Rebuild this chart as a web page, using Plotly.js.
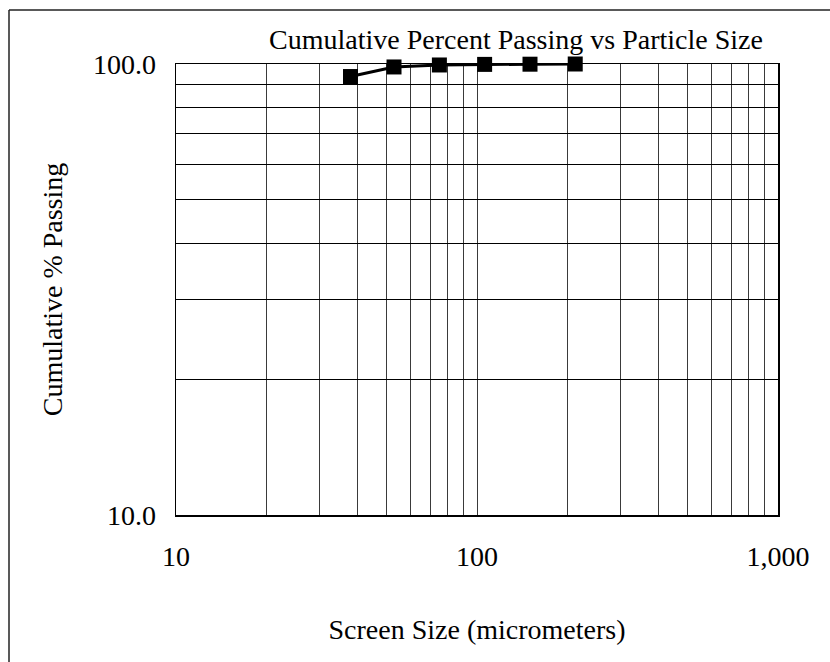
<!DOCTYPE html>
<html>
<head>
<meta charset="utf-8">
<script src="https://cdn.plot.ly/plotly-3.0.1.min.js"></script>
<style>
  html, body { margin: 0; padding: 0; background: #ffffff; }
  #chart { width: 830px; height: 662px; }
</style>
</head>
<body>
<div id="chart"></div>
<script>
// Sieve analysis: screen opening (micrometers) and cumulative percent passing
const screenSize = [38, 53, 75, 106, 150, 212];
const cumPassing = [93.8, 98.5, 99.5, 99.8, 99.9, 100.0];

// Log-axis grid positions and their labels (blank = grid line only)
const xTickVals = [10, 20, 30, 40, 50, 60, 70, 80, 90,
                   100, 200, 300, 400, 500, 600, 700, 800, 900, 1000];
const xTickText = ['10', '', '', '', '', '', '', '', '',
                   '100', '', '', '', '', '', '', '', '', '1,000'];
const yTickVals = [10, 20, 30, 40, 50, 60, 70, 80, 90, 100];
const yTickText = ['10.0', '', '', '', '', '', '', '', '', '100.0'];

const W = 830, H = 662;
const M = { l: 176, r: 52, t: 64, b: 147 };
const plotW = W - M.l - M.r, plotH = H - M.t - M.b;
// convert page pixels to paper fractions for the outer frame
const px = x => (x - M.l) / plotW;
const py = y => (H - M.b - y) / plotH;

const serif = 'Liberation Serif, Times New Roman, serif';

const trace = {
  x: screenSize,
  y: cumPassing,
  type: 'scatter',
  mode: 'lines+markers',
  line: { color: '#000000', width: 3 },
  marker: { symbol: 'square', size: 15, color: '#000000' },
  cliponaxis: false,
  hoverinfo: 'x+y'
};

const layout = {
  width: W,
  height: H,
  margin: M,
  paper_bgcolor: '#ffffff',
  plot_bgcolor: '#ffffff',
  showlegend: false,
  font: { family: serif, color: '#000000', size: 28 },
  title: {
    text: 'Cumulative Percent Passing vs Particle Size',
    font: { family: serif, size: 28, color: '#000000' },
    xref: 'container', yref: 'container',
    x: 516 / W, xanchor: 'center',
    y: 1 - 39 / H, yanchor: 'middle'
  },
  xaxis: {
    type: 'log',
    range: [1, 3],
    tickmode: 'array',
    tickvals: xTickVals,
    ticktext: xTickText,
    ticks: '',
    ticklabelstandoff: 16,
    tickfont: { family: serif, size: 28, color: '#000000' },
    showgrid: true,
    gridcolor: '#3a3a3a',
    gridwidth: 1,
    showline: true,
    linecolor: '#000000',
    linewidth: 1.5,
    mirror: true,
    zeroline: false,
    title: {
      text: 'Screen Size (micrometers)',
      font: { family: serif, size: 28, color: '#000000' },
      standoff: 48
    }
  },
  yaxis: {
    type: 'log',
    range: [1, 2],
    tickmode: 'array',
    tickvals: yTickVals,
    ticktext: yTickText,
    ticks: '',
    ticklabelstandoff: 13,
    tickfont: { family: serif, size: 28, color: '#000000' },
    showgrid: true,
    gridcolor: '#000000',
    gridwidth: 1,
    showline: true,
    linecolor: '#000000',
    linewidth: 1.5,
    mirror: true,
    zeroline: false,
    title: {
      text: 'Cumulative % Passing',
      font: { family: serif, size: 28, color: '#000000' },
      standoff: 22
    }
  },
  shapes: [
    // outer frame: top and left edges
    { type: 'line', xref: 'paper', yref: 'paper',
      x0: px(9), x1: px(W + 5), y0: py(10), y1: py(10),
      line: { color: '#222222', width: 1.5 } },
    { type: 'line', xref: 'paper', yref: 'paper',
      x0: px(9), x1: px(9), y0: py(10), y1: py(H + 5),
      line: { color: '#222222', width: 1.5 } }
  ]
};

Plotly.newPlot('chart', [trace], layout, { displayModeBar: false, staticPlot: true });
</script>
</body>
</html>
